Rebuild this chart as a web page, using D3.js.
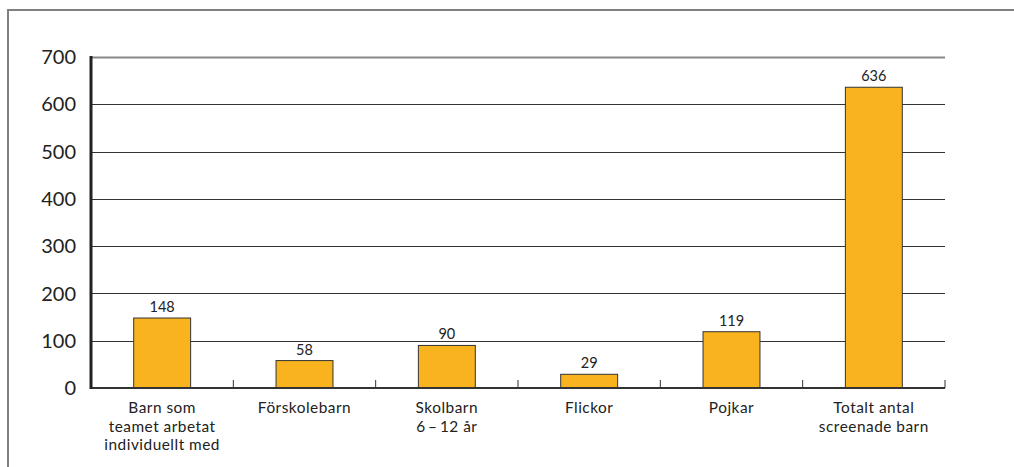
<!DOCTYPE html>
<html>
<head>
<meta charset="utf-8">
<script src="https://cdn.jsdelivr.net/npm/d3@7"></script>
<style>
  html, body { margin: 0; padding: 0; background: #fff; }
  svg { display: block; font-family: Lato, "Open Sans", sans-serif; }
</style>
</head>
<body>
<svg id="chart" width="1014" height="467"></svg>
<script>
// Category labels (line breaks as drawn under the axis)
const categories = [
  ["Barn som", "teamet arbetat", "individuellt med"],
  ["Förskolebarn"],
  ["Skolbarn", "6\u2009\u2013\u200912 år"],
  ["Flickor"],
  ["Pojkar"],
  ["Totalt antal", "screenade barn"]
];
const values = [148, 58, 90, 29, 119, 636];
const yTicks = [0, 100, 200, 300, 400, 500, 600, 700];

const svg = d3.select("#chart");
const margin = { left: 91, right: 945, top: 57, bottom: 388 };

// Outer frame (top and left edges only)
svg.append("path")
  .attr("d", "M8,467 L8,10 L1014,10")
  .attr("fill", "none")
  .attr("stroke", "#808080")
  .attr("stroke-width", 2);

const x = d3.scaleBand()
  .domain(d3.range(categories.length))
  .range([margin.left, margin.right])
  .paddingInner(0)
  .paddingOuter(0);

const y = d3.scaleLinear()
  .domain([0, 700])
  .range([margin.bottom, margin.top]);

// Horizontal gridlines
svg.append("g")
  .selectAll("line")
  .data(yTicks.filter(d => d > 0))
  .join("line")
  .attr("x1", margin.left)
  .attr("x2", margin.right)
  .attr("y1", d => Math.round(y(d)) + 0.5)
  .attr("y2", d => Math.round(y(d)) + 0.5)
  .attr("stroke", d => d === 700 ? "#888" : "#333")
  .attr("stroke-width", d => d === 700 ? 2 : 1);

// Y axis labels
svg.append("g")
  .selectAll("text")
  .data(yTicks)
  .join("text")
  .attr("x", 76)
  .attr("y", d => y(d))
  .attr("dy", "0.36em")
  .attr("text-anchor", "end")
  .attr("font-size", 20)
  .attr("fill", "#222")
  .text(d => d);

// Bars
const barW = x.bandwidth() * 0.4;
svg.append("g")
  .selectAll("rect")
  .data(values)
  .join("rect")
  .attr("x", (d, i) => x(i) + (x.bandwidth() - barW) / 2)
  .attr("y", d => y(d))
  .attr("width", barW)
  .attr("height", d => y(0) - y(d))
  .attr("fill", "#F8B31E")
  .attr("stroke", "#333")
  .attr("stroke-width", 1);

// Value labels
svg.append("g")
  .selectAll("text")
  .data(values)
  .join("text")
  .attr("x", (d, i) => x(i) + x.bandwidth() / 2)
  .attr("y", d => y(d) - 6)
  .attr("text-anchor", "middle")
  .attr("font-size", 14.5)
  .attr("fill", "#222")
  .text(d => d);

// X axis line and category separators
svg.append("line")
  .attr("x1", margin.left)
  .attr("x2", margin.right)
  .attr("y1", y(0))
  .attr("y2", y(0))
  .attr("stroke", "#333")
  .attr("stroke-width", 2);

svg.append("g")
  .selectAll("line")
  .data(d3.range(1, categories.length + 1))
  .join("line")
  .attr("x1", i => x.step() * i + margin.left)
  .attr("x2", i => x.step() * i + margin.left)
  .attr("y1", y(0))
  .attr("y2", y(0) - 8)
  .attr("stroke", "#333")
  .attr("stroke-width", 1);

// Y axis line
svg.append("line")
  .attr("x1", margin.left)
  .attr("x2", margin.left)
  .attr("y1", y(700) - 1)
  .attr("y2", y(0) + 1)
  .attr("stroke", "#222")
  .attr("stroke-width", 3);

// Category labels
const cat = svg.append("g")
  .selectAll("text")
  .data(categories)
  .join("text")
  .attr("x", (d, i) => x(i) + x.bandwidth() / 2)
  .attr("y", 413)
  .attr("text-anchor", "middle")
  .attr("font-size", 15.4)
  .attr("letter-spacing", 0.5)
  .attr("fill", "#222");

cat.selectAll("tspan")
  .data(d => d)
  .join("tspan")
  .attr("x", function () { return d3.select(this.parentNode).attr("x"); })
  .attr("dy", (d, i) => i === 0 ? 0 : 18.5)
  .text(d => d);
</script>
</body>
</html>
